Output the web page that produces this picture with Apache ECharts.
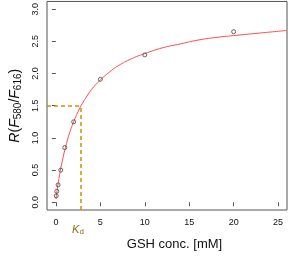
<!DOCTYPE html>
<html>
<head>
<meta charset="utf-8">
<script src="https://cdn.jsdelivr.net/npm/echarts@6/dist/echarts.min.js"></script>
<style>
  html, body { margin: 0; padding: 0; background: #fff; }
  #chart { width: 288px; height: 256px; }
</style>
</head>
<body>
<div id="chart"></div>
<script>
// measured points
const gshConc = [0.04, 0.1, 0.25, 0.55, 1, 2, 5, 10, 20];
const ratio = [0.10, 0.17, 0.27, 0.50, 0.85, 1.25, 1.91, 2.29, 2.65];

// fitted curve
const fitX = [0, 0.25, 0.5, 0.75, 1, 1.5, 2, 2.5, 3, 3.5, 4, 5, 6, 7, 8.5, 10, 12, 14, 16, 18, 20, 23, 26];
const fitY = [0.05, 0.29, 0.49, 0.66, 0.81, 1.06, 1.25, 1.41, 1.54, 1.65, 1.75, 1.9, 2.02, 2.12, 2.23, 2.31, 2.4, 2.46, 2.52, 2.56, 2.59, 2.63, 2.67];

const kd = 2.82;
const kdRatio = 1.5;

const xTicks = [0, 5, 10, 15, 20, 25];
const yTicks = [0, 0.5, 1, 1.5, 2, 2.5, 3];

const font = 'Liberation Sans, Arial, sans-serif';
const dashStyle = { color: '#d09000', type: [4, 3], width: 1.5, opacity: 1 };
const chart = echarts.init(document.getElementById('chart'));

chart.setOption({
  animation: false,
  grid: {
    left: 44, right: 1, top: 0, bottom: 44,
    show: true, borderColor: '#555', borderWidth: 1
  },
  xAxis: {
    type: 'value',
    min: -1, max: 26,
    splitLine: { show: false },
    axisLine: { show: false },
    axisTick: { show: true, customValues: xTicks, length: 4, lineStyle: { color: '#555' } },
    axisLabel: {
      customValues: xTicks, margin: 8,
      fontFamily: font, fontSize: 9, color: '#111'
    },
    name: 'GSH conc. [mM]',
    nameLocation: 'middle',
    nameGap: 28,
    nameTextStyle: { fontFamily: font, fontSize: 13, color: '#111', padding: [0, 0, 0, 15] }
  },
  yAxis: {
    type: 'value',
    min: -0.12, max: 3.12,
    splitLine: { show: false },
    axisLine: { show: false },
    axisTick: { show: true, customValues: yTicks, length: 4, lineStyle: { color: '#555' } },
    axisLabel: {
      customValues: yTicks, rotate: 90, margin: 7,
      fontFamily: font, fontSize: 9, color: '#111',
      formatter: v => v.toFixed(1)
    },
    name: '{i|R}{n|(}{i|F}{s|580}{n|/}{i|F}{s|616}{n|)}',
    nameLocation: 'middle',
    nameRotate: 90,
    nameGap: 24,
    nameTextStyle: {
      rich: {
        i: { fontFamily: font, fontSize: 14, fontStyle: 'italic', color: '#111' },
        n: { fontFamily: font, fontSize: 14, color: '#111' },
        s: { fontFamily: font, fontSize: 10, color: '#111', verticalAlign: 'bottom', padding: [6, 0, 0, 0] }
      }
    }
  },
  series: [
    {
      type: 'line',
      data: fitX.map((x, i) => [x, fitY[i]]),
      smooth: true,
      showSymbol: false,
      lineStyle: { color: '#ff4a4a', width: 1 },
      z: 3,
      markLine: {
        silent: true,
        symbol: 'none',
        lineStyle: dashStyle,
        label: { show: false },
        data: [
          [{ coord: [-1, kdRatio], lineStyle: dashStyle }, { coord: [kd, kdRatio] }],
          [
            {
              coord: [kd, -0.12],
              lineStyle: dashStyle,
              label: {
                show: true, position: 'start', distance: 13, offset: [-3, 0],
                formatter: '{k|K}{d|d}',
                rich: {
                  k: { fontFamily: font, fontSize: 11, fontStyle: 'italic', color: '#8a6a10' },
                  d: { fontFamily: font, fontSize: 8, color: '#8a6a10', verticalAlign: 'bottom', padding: [5, 0, 0, 0] }
                }
              }
            },
            { coord: [kd, kdRatio] }
          ]
        ]
      }
    },
    {
      type: 'scatter',
      data: gshConc.map((x, i) => [x, ratio[i]]),
      symbol: 'circle',
      symbolSize: 4,
      itemStyle: { color: 'rgba(0,0,0,0)', borderColor: '#444', borderWidth: 1 },
      z: 4
    }
  ]
});
</script>
</body>
</html>
